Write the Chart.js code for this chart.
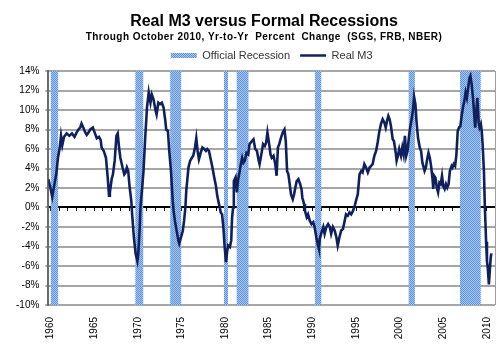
<!DOCTYPE html>
<html lang="en">
<head>
<meta charset="UTF-8">
<title>Real M3 versus Formal Recessions</title>
<script src="https://cdn.jsdelivr.net/npm/chart.js@4.4.6/dist/chart.umd.min.js"></script>
<style>
  html, body { margin: 0; padding: 0; background: #fff; }
  #wrap { width: 501px; height: 348px; }
</style>
</head>
<body>
<div id="wrap"><canvas id="m3-chart"></canvas></div>
<script>
// Real M3, yr-to-yr % change (decimal year, value)
const dates = [
  1960.0, 1960.23, 1960.45, 1960.7, 1960.9, 1961.1, 1961.3, 1961.45, 1961.6, 1961.8,
  1962.1, 1962.4, 1962.7, 1963.0, 1963.25, 1963.45, 1963.65, 1963.8, 1964.0, 1964.2,
  1964.4, 1964.6, 1964.8, 1965.1, 1965.3, 1965.55, 1965.8, 1966.0, 1966.1, 1966.35,
  1966.6, 1966.8, 1966.95, 1967.05, 1967.25, 1967.4, 1967.6, 1967.8, 1967.95, 1968.1,
  1968.25, 1968.5, 1968.7, 1968.85, 1969.0, 1969.15, 1969.3, 1969.5, 1969.6, 1969.8,
  1970.0, 1970.2, 1970.3, 1970.45, 1970.55, 1970.75, 1970.9, 1971.1, 1971.3, 1971.5,
  1971.6, 1971.7, 1971.85, 1972.05, 1972.15, 1972.3, 1972.4, 1972.6, 1972.8, 1973.0,
  1973.2, 1973.4, 1973.5, 1973.7, 1973.85, 1974.05, 1974.25, 1974.35, 1974.5, 1974.7,
  1974.9, 1975.0, 1975.2, 1975.4, 1975.55, 1975.7, 1975.8, 1976.05, 1976.25, 1976.45,
  1976.6, 1976.8, 1976.95, 1977.1, 1977.25, 1977.45, 1977.65, 1977.85, 1978.05, 1978.2,
  1978.4, 1978.6, 1978.8, 1979.0, 1979.2, 1979.35, 1979.55, 1979.75, 1979.9, 1980.05,
  1980.2, 1980.35, 1980.5, 1980.6, 1980.8, 1980.95, 1981.05, 1981.17, 1981.25, 1981.45,
  1981.6, 1981.75, 1981.9, 1982.05, 1982.2, 1982.35, 1982.5, 1982.7, 1982.9, 1983.05,
  1983.3, 1983.5, 1983.7, 1983.9, 1984.1, 1984.2, 1984.4, 1984.6, 1984.8, 1984.95,
  1985.1, 1985.3, 1985.45, 1985.6, 1985.8, 1986.0, 1986.15, 1986.3, 1986.45, 1986.65,
  1986.85, 1987.05, 1987.2, 1987.35, 1987.5, 1987.65, 1987.8, 1988.0, 1988.15, 1988.3,
  1988.45, 1988.65, 1988.85, 1989.0, 1989.1, 1989.3, 1989.4, 1989.6, 1989.75, 1989.95,
  1990.15, 1990.35, 1990.5, 1990.7, 1990.9, 1991.0, 1991.1, 1991.3, 1991.5, 1991.65,
  1991.85, 1992.05, 1992.25, 1992.4, 1992.6, 1992.8, 1993.0, 1993.15, 1993.35, 1993.55,
  1993.75, 1993.95, 1994.1, 1994.3, 1994.5, 1994.7, 1994.9, 1995.1, 1995.25, 1995.45,
  1995.65, 1995.85, 1996.0, 1996.2, 1996.4, 1996.6, 1996.8, 1996.95, 1997.15, 1997.35,
  1997.55, 1997.75, 1997.9, 1998.1, 1998.3, 1998.5, 1998.65, 1998.8, 1998.95, 1999.1,
  1999.25, 1999.45, 1999.6, 1999.8, 1999.9, 2000.05, 2000.2, 2000.4, 2000.55, 2000.7,
  2000.85, 2001.0, 2001.15, 2001.3, 2001.45, 2001.65, 2001.8, 2001.9, 2002.05, 2002.2,
  2002.35, 2002.55, 2002.7, 2002.85, 2003.0, 2003.1, 2003.25, 2003.4, 2003.55, 2003.7,
  2003.85, 2004.0, 2004.1, 2004.2, 2004.35, 2004.5, 2004.65, 2004.8, 2004.95, 2005.1,
  2005.25, 2005.4, 2005.55, 2005.7, 2005.85, 2006.0, 2006.2, 2006.3, 2006.45, 2006.6,
  2006.75, 2006.9, 2007.05, 2007.2, 2007.35, 2007.5, 2007.65, 2007.8, 2007.95, 2008.1,
  2008.25, 2008.35, 2008.5, 2008.65, 2008.8, 2008.9, 2009.0, 2009.15, 2009.3, 2009.4,
  2009.55, 2009.65, 2009.75, 2009.9, 2010.0, 2010.15, 2010.25, 2010.35, 2010.47, 2010.58,
  2010.67, 2010.75
];
const realM3 = [
  2.9, 2.05, 1.1, 2.4, 3.4, 5.1, 6.1, 7.35, 6.4, 7.25,
  7.6, 7.35, 7.6, 7.25, 7.7, 8.0, 8.2, 8.6, 8.2, 7.75,
  7.45, 7.7, 8.0, 8.2, 7.7, 7.1, 7.25, 6.9, 6.15, 5.8,
  5.1, 3.1, 1.2, 1.55, 2.9, 3.4, 4.8, 7.35, 7.6, 6.15,
  5.1, 4.1, 3.4, 3.6, 4.1, 3.75, 2.2, 0.7, -0.7, -3.05,
  -4.75, -5.5, -4.75, -2.4, 0.0, 2.05, 3.75, 7.2, 10.25, 11.8,
  11.25, 10.75, 11.6, 11.1, 10.6, 9.9, 9.55, 10.75, 10.6, 10.75,
  10.25, 8.9, 8.0, 7.85, 5.8, 3.75, 0.7, -0.35, -1.35, -2.4,
  -3.4, -3.7, -3.05, -2.4, -1.35, 0.0, 1.7, 4.1, 4.8, 5.1,
  5.3, 6.15, 7.1, 5.8, 4.95, 5.6, 6.15, 6.0, 5.8, 6.0,
  5.8, 4.95, 4.1, 3.1, 2.2, 1.2, 0.35, -0.5, -0.7, -2.0,
  -4.05, -5.6, -4.4, -3.9, -4.05, -3.4, -1.0, 0.0, 2.7, 3.1,
  1.55, 2.9, 3.6, 4.45, 5.1, 4.6, 4.8, 5.6, 5.45, 6.5,
  6.8, 7.0, 6.0, 5.8, 4.8, 4.45, 5.45, 6.5, 6.3, 6.65,
  7.7, 6.5, 5.45, 5.1, 5.3, 4.45, 3.25, 6.15, 6.5, 7.15,
  7.7, 8.0, 6.8, 3.75, 3.4, 2.4, 1.35, 0.85, 1.35, 2.05,
  2.7, 2.9, 2.4, 1.9, 1.0, 0.35, -0.35, -1.0, -0.7, -1.35,
  -1.7, -1.5, -2.0, -3.05, -3.9, -4.25, -3.2, -2.55, -2.0, -2.7,
  -2.0, -1.7, -2.0, -2.7, -2.0, -2.35, -3.05, -3.9, -3.05, -2.35,
  -2.2, -1.35, -0.7, -0.85, -0.5, -0.7, -0.35, 0.2, 0.7, 1.35,
  3.4, 3.75, 3.6, 4.45, 4.1, 3.6, 4.1, 4.25, 4.45, 5.3,
  5.8, 6.8, 7.7, 8.55, 9.05, 8.7, 8.2, 8.9, 9.4, 9.05,
  8.35, 7.0, 6.8, 5.6, 4.8, 5.3, 6.0, 5.3, 6.15, 5.45,
  7.35, 5.3, 5.8, 7.15, 8.2, 9.2, 10.25, 11.35, 10.6, 8.55,
  7.15, 6.15, 5.8, 4.6, 4.1, 3.75, 4.1, 4.95, 5.6, 5.1,
  4.25, 3.05, 1.9, 3.25, 3.05, 2.05, 1.55, 2.55, 2.4, 3.25,
  2.2, 1.9, 2.4, 2.05, 2.4, 3.75, 4.25, 4.1, 4.45, 4.25,
  5.45, 7.85, 8.2, 8.35, 9.4, 10.25, 10.9, 11.8, 11.25, 12.3,
  13.3, 13.5, 12.6, 11.25, 9.4, 8.2, 9.55, 11.25, 8.7, 8.2,
  8.55, 7.85, 6.5, 3.75, 0.3, -3.5, -5.5, -6.3, -7.9, -6.4,
  -5.2, -4.7
];

// recession periods (decimal years)
const recessionStart = [1960.25, 1969.95, 1973.95, 1980.1, 1981.55, 1990.55, 2001.25, 2007.15];
const recessionEnd   = [1961.15, 1970.9, 1975.25, 1980.6, 1982.95, 1991.3, 2002.0, 2009.55];

const yearLabels = [1960, 1965, 1970, 1975, 1980, 1985, 1990, 1995, 2000, 2005, 2010];
const yearMarks = [];
for (let y = 1960; y <= 2010; y++) yearMarks.push(y);

const titleText = 'Real M3 versus Formal Recessions';
const subtitleText = 'Through October 2010, Yr-to-Yr  Percent  Change  (SGS, FRB, NBER)';

const FONT = '"Liberation Sans", Arial, sans-serif';
Chart.defaults.font.family = FONT;

const ctx = document.getElementById('m3-chart').getContext('2d');

// dotted light blue fill for the recession bands
function checker(c1, c2) {
  const p = document.createElement('canvas');
  p.width = 2; p.height = 2;
  const g = p.getContext('2d');
  g.fillStyle = c1; g.fillRect(0, 0, 2, 2);
  g.fillStyle = c2; g.fillRect(0, 0, 1, 1); g.fillRect(1, 1, 1, 1);
  return ctx.createPattern(p, 'repeat');
}
const bandFill = checker('#a4c4f0', '#6395dd');

// each recession becomes a flat segment at the top, broken by a null point
const bandPoints = [];
recessionStart.forEach((s, i) => {
  bandPoints.push({ x: s, y: 14 }, { x: recessionEnd[i], y: 14 }, { x: recessionEnd[i], y: null });
});

const headerPlugin = {
  id: 'header',
  afterDraw(chart) {
    const c = chart.ctx;
    const a = chart.chartArea;
    c.save();
    // right edge of the plot frame
    c.strokeStyle = '#a0a0a0';
    c.lineWidth = 1;
    c.beginPath();
    c.moveTo(Math.round(a.right) + 0.5, a.top);
    c.lineTo(Math.round(a.right) + 0.5, a.bottom);
    c.stroke();

    c.fillStyle = '#000';
    c.textAlign = 'center';
    c.font = 'bold 16px ' + FONT;
    c.fillText(titleText, 264, 22);
    c.font = 'bold 10px ' + FONT;
    c.letterSpacing = '0.45px';
    c.fillText(subtitleText, 264, 37);
    c.restore();
  }
};

new Chart(ctx, {
  type: 'line',
  data: {
    datasets: [{
      label: 'Real M3',
      data: dates.map((d, i) => ({ x: d, y: realM3[i] })),
      borderColor: '#10205e',
      backgroundColor: '#10205e',
      borderWidth: 2.6,
      pointRadius: 0,
      pointStyle: 'line',
      fill: false,
      tension: 0
    }, {
      label: 'Official Recession',
      data: bandPoints,
      borderWidth: 0,
      borderColor: 'rgba(0,0,0,0)',
      backgroundColor: bandFill,
      pointRadius: 0,
      pointStyle: 'rect',
      spanGaps: false,
      fill: { value: -10 }
    }]
  },
  options: {
    responsive: true,
    maintainAspectRatio: false,
    animation: false,
    devicePixelRatio: 1,
    events: [],
    layout: { padding: { top: 40, left: 10, right: 6, bottom: 0 } },
    scales: {
      x: {
        type: 'linear',
        position: 'bottom',
        min: 1960,
        max: 2011.17,
        grid: { display: false },
        border: { display: false },
        afterBuildTicks: s => { s.ticks = yearLabels.map(y => ({ value: y + 0.25 })); },
        afterFit: s => { s.height = 43; s.paddingLeft = 0; s.paddingRight = 0; },
        ticks: {
          autoSkip: false,
          minRotation: 90,
          maxRotation: 90,
          padding: 4,
          color: '#000',
          font: { size: 10 },
          callback: v => String(Math.floor(v))
        }
      },
      zero: {
        type: 'linear',
        axis: 'x',
        position: { y: 0 },
        min: 1960,
        max: 2011.17,
        z: 1,
        afterBuildTicks: s => { s.ticks = yearMarks.map(y => ({ value: y + 0.25 })); },
        grid: { drawOnChartArea: false, drawTicks: true, tickLength: 3, color: '#000', lineWidth: 1 },
        border: { color: '#000', width: 2 },
        ticks: { display: false }
      },
      y: {
        min: -10,
        max: 14,
        ticks: {
          stepSize: 2,
          padding: 6,
          color: '#000',
          font: { size: 10 },
          callback: v => v + '%'
        },
        grid: { color: '#a6a6a6', lineWidth: 2, tickLength: 3 },
        border: { color: '#6a6a6a', width: 2 }
      }
    },
    plugins: {
      legend: {
        position: 'top',
        fullSize: false,
        labels: {
          usePointStyle: true,
          pointStyleWidth: 26,
          boxHeight: 5,
          padding: 10,
          color: '#333',
          font: { size: 11 },
          sort: (a, b) => b.datasetIndex - a.datasetIndex
        }
      },
      tooltip: { enabled: false }
    }
  },
  plugins: [headerPlugin]
});
</script>
</body>
</html>
